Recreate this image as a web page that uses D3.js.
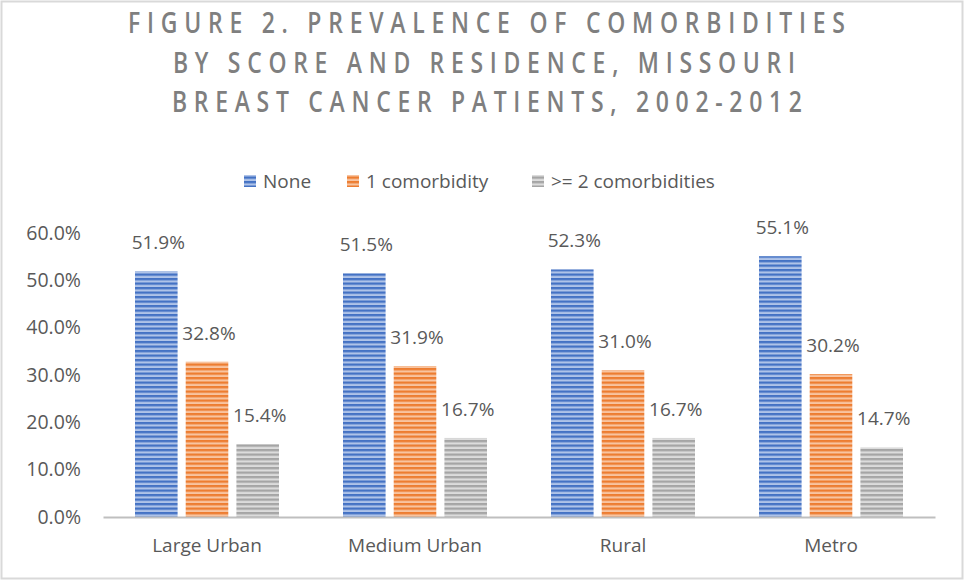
<!DOCTYPE html>
<html>
<head>
<meta charset="utf-8">
<script src="https://cdn.jsdelivr.net/npm/d3@7"></script>
<style>
  body { margin: 0; background: #fff; }
  svg text { font-family: "Open Sans", Lato, sans-serif; fill: #595959; }
</style>
</head>
<body>
<div id="chart"></div>
<script>
// chart data
const categories = ["Large Urban", "Medium Urban", "Rural", "Metro"];
const seriesNames = ["None", "1 comorbidity", ">= 2 comorbidities"];
const noneValues = [51.9, 51.5, 52.3, 55.1];
const oneValues = [32.8, 31.9, 31.0, 30.2];
const twoPlusValues = [15.4, 16.7, 16.7, 14.7];
const yTicks = [0, 10, 20, 30, 40, 50, 60];
const titleLines = [
    "FIGURE 2. PREVALENCE OF COMORBIDITIES",
    "BY SCORE AND RESIDENCE, MISSOURI",
    "BREAST CANCER PATIENTS, 2002-2012"
];

const seriesValues = [noneValues, oneValues, twoPlusValues];
const colors = [
    { dark: "#4472C4", light: "#AFC3E8" },
    { dark: "#ED7D31", light: "#F8C4A0" },
    { dark: "#A5A5A5", light: "#DCDCDC" }
];

const W = 965, H = 581;
const MARGIN = { top: 233, right: 30, bottom: 64, left: 103 },
    WIDTH = W - MARGIN.left - MARGIN.right,
    HEIGHT = H - MARGIN.top - MARGIN.bottom;

const root = d3.select("#chart").append("svg")
    .attr("width", W)
    .attr("height", H);

// outer frame
root.append("rect")
    .attr("x", 1.5).attr("y", 1.5)
    .attr("width", W - 4).attr("height", H - 4)
    .attr("fill", "#fff")
    .attr("stroke", "#d9d9d9")
    .attr("stroke-width", 2);

// striped fills
const defs = root.append("defs");
colors.forEach((c, i) => {
    const p = defs.append("pattern")
        .attr("id", "stripe" + i)
        .attr("patternUnits", "userSpaceOnUse")
        .attr("width", 8).attr("height", 4.5);
    p.append("rect").attr("width", 8).attr("height", 4.5).attr("fill", c.light);
    p.append("rect").attr("width", 8).attr("height", 2.3).attr("fill", c.dark);
});

// title - slightly squeezed, spacing stretched to the original widths
const SQ = 0.82;
const titleBox = [
    { x: 128, y: 33, w: 717 },
    { x: 173, y: 73, w: 622 },
    { x: 172, y: 112, w: 630 }
];
const titleG = root.append("g").attr("transform", `scale(${SQ},1)`);
titleLines.forEach((t, i) => {
    titleG.append("text")
        .attr("x", titleBox[i].x / SQ)
        .attr("y", titleBox[i].y)
        .attr("textLength", titleBox[i].w / SQ)
        .attr("lengthAdjust", "spacing")
        .style("font-family", "'Open Sans', sans-serif")
        .style("font-size", "28px")
        .style("font-weight", "600")
        .style("fill", "#7f7f7f")
        .text(t);
});

// legend
const legendX = [244, 347, 532];
seriesNames.forEach((name, i) => {
    const g = root.append("g").attr("transform", `translate(${legendX[i]},181)`);
    g.append("rect")
        .attr("x", 0).attr("y", -6)
        .attr("width", 12).attr("height", 12)
        .attr("fill", `url(#stripe${i})`);
    g.append("text")
        .attr("x", 19).attr("y", 0)
        .attr("dy", "0.35em")
        .style("font-size", "19px")
        .text(name);
});

const svg = root.append("g")
    .attr("transform", `translate(${MARGIN.left},${MARGIN.top})`);

const x0 = d3.scaleBand().domain(categories).range([0, WIDTH]).paddingInner(0).paddingOuter(0);
const x1 = d3.scaleBand().domain(d3.range(3)).range([32, x0.bandwidth() - 32]).paddingInner(0.16);
const y = d3.scaleLinear().domain([0, 60]).range([HEIGHT, 0]);

// y axis labels
const yAxis = svg.append("g")
    .call(d3.axisLeft(y).tickValues(yTicks).tickSize(0).tickPadding(22)
        .tickFormat(d => d.toFixed(1) + "%"));
yAxis.select(".domain").remove();
yAxis.selectAll("text").style("font-size", "19.5px").style("fill", "#595959")
    .style("font-family", "'Open Sans', sans-serif");

// bars
categories.forEach((cat, ci) => {
    const g = svg.append("g").attr("transform", `translate(${x0(cat)},0)`);
    seriesValues.forEach((vals, si) => {
        g.append("rect")
            .attr("x", x1(si))
            .attr("y", y(vals[ci]))
            .attr("width", x1.bandwidth())
            .attr("height", HEIGHT - y(vals[ci]))
            .attr("fill", `url(#stripe${si})`);
    });
    seriesValues.forEach((vals, si) => {
        g.append("text")
            .attr("x", x1(si) + x1.bandwidth() / 2 + 2)
            .attr("y", y(vals[ci]) - 22)
            .attr("text-anchor", "middle")
            .style("font-size", "19px")
            .text(vals[ci].toFixed(1) + "%");
    });
});

// x axis
const xAxis = svg.append("g")
    .attr("transform", `translate(0,${HEIGHT})`)
    .call(d3.axisBottom(x0).tickSize(0).tickPadding(22));
xAxis.select(".domain").attr("stroke", "#bfbfbf").attr("stroke-width", 2);
xAxis.selectAll("text").style("font-size", "19px").style("fill", "#595959")
    .style("font-family", "'Open Sans', sans-serif");
</script>
</body>
</html>
